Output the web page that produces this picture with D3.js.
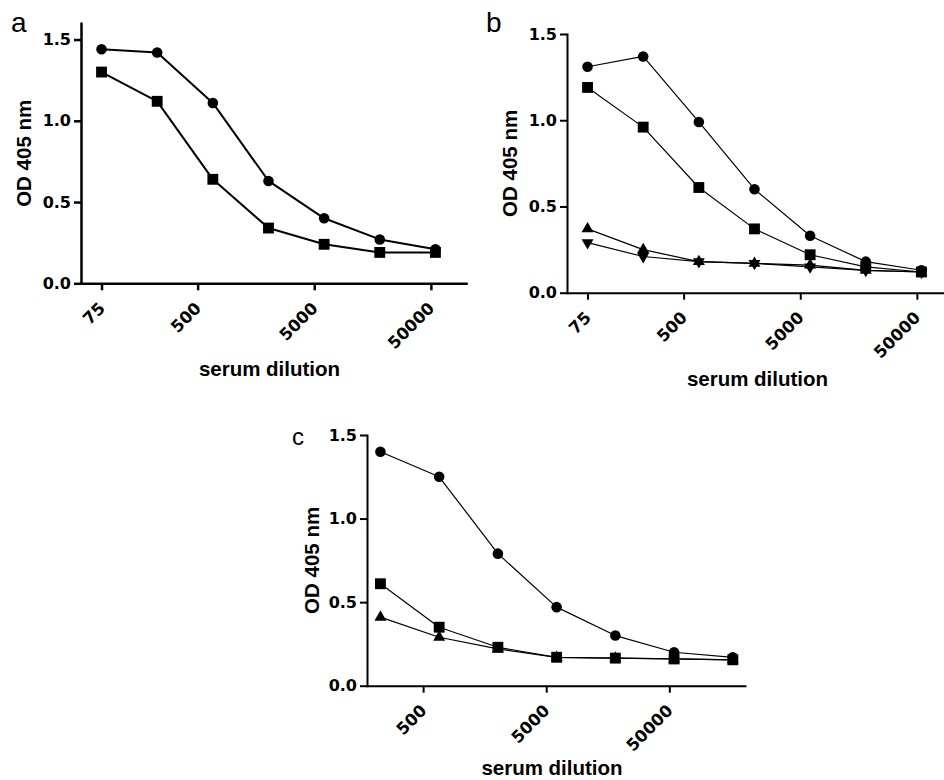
<!DOCTYPE html>
<html><head><meta charset="utf-8">
<script src="https://cdn.jsdelivr.net/npm/d3@7"></script>
<style>body{margin:0;background:#fff}</style>
</head><body>
<script>
// ---- data ----
const dilutionsAB = [75, 225, 675, 2025, 6075, 18225, 54675];
const dilutionsC  = [225, 675, 2025, 6075, 18225, 54675, 164025];
const yTicks   = [0, 0.5, 1.0, 1.5];
const xTicksAB = [75, 500, 5000, 50000];
const xTicksC  = [500, 5000, 50000];
const panelLabels = ["a", "b", "c"];
const xTitle = "serum dilution";
const yTitle = "OD 405 nm";

const aCircle = [1.44, 1.42, 1.11, 0.63, 0.40, 0.27, 0.21];
const aSquare = [1.30, 1.12, 0.64, 0.34, 0.24, 0.19, 0.19];

const bCircle   = [1.31, 1.37, 0.99, 0.60, 0.33, 0.18, 0.13];
const bTriUp    = [0.37, 0.25, 0.18, 0.17, 0.16, 0.13, 0.12];
const bTriDown  = [0.29, 0.21, 0.18, 0.17, 0.15, 0.13, 0.12];
const bSquare   = [1.19, 0.96, 0.61, 0.37, 0.22, 0.15, 0.12];

const cCircle = [1.40, 1.25, 0.79, 0.47, 0.30, 0.20, 0.17];
const cTri    = [0.41, 0.29, 0.22, 0.17, 0.165, 0.16, 0.155];
const cSquare = [0.61, 0.35, 0.23, 0.17, 0.165, 0.16, 0.155];

// ---- drawing ----
const svg = d3.select("body").append("svg").attr("width", 944).attr("height", 780);

const symbolDefs = {
  circle:  {type: d3.symbolCircle,   size: 88,  rot: 0},
  square:  {type: d3.symbolSquare,   size: 118, rot: 0},
  triUp:   {type: d3.symbolTriangle, size: 62,  rot: 0},
  triDown: {type: d3.symbolTriangle, size: 62,  rot: 180}
};

function drawPanel(p) {
  const x = d3.scaleLog().domain(p.xDomain).range(p.xRange);
  const y = d3.scaleLinear().domain(p.yDomain).range(p.yRange);
  const g = svg.append("g");

  const yAxis = d3.axisLeft(y).tickValues(yTicks).tickFormat(d3.format(".1f"))
    .tickSize(7).tickSizeOuter(0).tickPadding(3);
  const gy = g.append("g").attr("transform", `translate(${p.xRange[0]},0)`).call(yAxis);

  const xAxis = d3.axisBottom(x).tickValues(p.xTicks).tickFormat(d => String(d))
    .tickSize(7).tickSizeOuter(0);
  const gx = g.append("g").attr("transform", `translate(0,${p.yRange[0]})`).call(xAxis);

  [gx, gy].forEach(a => {
    a.select(".domain").attr("stroke", "#000").attr("stroke-width", p.axisW).attr("stroke-linecap", "square");
    a.selectAll(".tick line").attr("stroke", "#000").attr("stroke-width", p.axisW);
    a.selectAll(".tick text").attr("fill", "#000")
      .style("font-family", "'DejaVu Sans', sans-serif").style("font-weight", "bold").style("font-size", "16px");
  });
  gx.selectAll(".tick text").attr("text-anchor", "end").attr("x", 0).attr("y", 0).attr("dy", null)
    .style("font-size", "16.5px")
    .attr("transform", "translate(4,26) rotate(-45)");

  // titles
  g.append("text").attr("x", (p.xRange[0] + p.xRange[1]) / 2 + p.xTitleShift).attr("y", p.yRange[0] + p.xTitleGap)
    .attr("text-anchor", "middle").text(xTitle)
    .style("font-family", "'Liberation Sans', Arial, sans-serif").style("font-weight", "bold").style("font-size", "20.5px");
  const cy = (p.yRange[0] + p.yRange[1]) / 2;
  g.append("text").attr("transform", `translate(${p.xRange[0] - p.yTitleGap},${cy}) rotate(-90)`)
    .attr("text-anchor", "middle").text(yTitle)
    .style("font-family", "'Liberation Sans', Arial, sans-serif").style("font-weight", "bold").style("font-size", "20.5px");

  // panel label
  g.append("text").attr("x", p.label.x).attr("y", p.label.y).text(p.label.t)
    .style("font-family", "'Liberation Sans', Arial, sans-serif").style("font-size", p.label.size + "px");

  // series
  p.series.forEach(s => {
    const line = d3.line().x((d, i) => x(p.dil[i])).y(d => y(d));
    g.append("path").datum(s.values).attr("d", line).attr("fill", "none")
      .attr("stroke", "#000").attr("stroke-width", p.lineW).attr("stroke-linejoin", "round");
    const sd = symbolDefs[s.sym];
    g.selectAll(null).data(s.values).enter().append("path")
      .attr("d", d3.symbol().type(sd.type).size(sd.size))
      .attr("transform", (d, i) => `translate(${x(p.dil[i])},${y(d)}) rotate(${sd.rot})`)
      .attr("fill", "#000");
  });
}

drawPanel({
  xDomain: [50, 100000], xRange: [81, 466], yDomain: [0, 1.6], yRange: [283.3, 23.3],
  xTicks: xTicksAB, dil: dilutionsAB, axisW: 2.5, lineW: 2, xTitleShift: -4, xTitleGap: 93, yTitleGap: 50,
  label: {t: panelLabels[0], x: 11, y: 32, size: 28},
  series: [{values: aCircle, sym: "circle"}, {values: aSquare, sym: "square"}]
});

drawPanel({
  xDomain: [50, 100000], xRange: [567, 952], yDomain: [0, 1.5], yRange: [292.7, 34],
  xTicks: xTicksAB, dil: dilutionsAB, axisW: 2, lineW: 1.2, xTitleShift: -2, xTitleGap: 93, yTitleGap: 50,
  label: {t: panelLabels[1], x: 486, y: 32, size: 28},
  series: [{values: bCircle, sym: "circle"}, {values: bTriUp, sym: "triUp"},
           {values: bTriDown, sym: "triDown"}, {values: bSquare, sym: "square"}]
});

drawPanel({
  xDomain: [175, 206000], xRange: [367, 745], yDomain: [0, 1.5], yRange: [685.7, 435],
  xTicks: xTicksC, dil: dilutionsC, axisW: 2, lineW: 1.2, xTitleShift: -4, xTitleGap: 89, yTitleGap: 48,
  label: {t: panelLabels[2], x: 292, y: 445, size: 24},
  series: [{values: cCircle, sym: "circle"}, {values: cTri, sym: "triUp"}, {values: cSquare, sym: "square"}]
});
</script>
</body></html>
